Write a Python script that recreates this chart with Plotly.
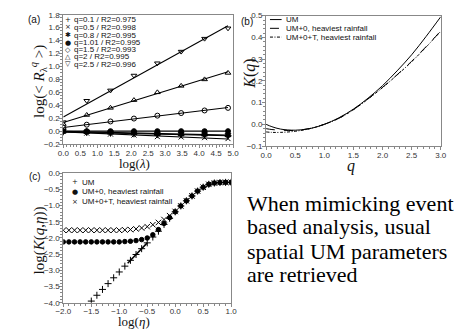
import numpy as np
import plotly.graph_objects as go

W, H = 471, 333

# ---------------- Panel (a) data ----------------
log_lambda = [0.0, 0.69, 1.39, 2.08, 2.77, 3.47, 4.16, 4.85]
a_labels = ["q=0.1 / R2=0.975", "q=0.5 / R2=0.998", "q=0.8 / R2=0.995",
            "q=1.01 / R2=0.995", "q=1.5 / R2=0.993", "q=2 / R2=0.995",
            "q=2.5 / R2=0.996"]
a_q01 = [-0.01, -0.02, -0.03, -0.04, -0.05, -0.055, -0.06, -0.07]
a_q05 = [0.0, -0.03, -0.045, -0.06, -0.085, -0.09, -0.10, -0.115]
a_q08 = [0.0, -0.01, -0.02, -0.03, -0.04, -0.045, -0.05, -0.06]
a_q101 = [0.0, 0.0, 0.0, 0.0, 0.0, 0.0, 0.0, 0.0]
a_q15 = [0.05, 0.10, 0.15, 0.195, 0.24, 0.28, 0.32, 0.36]
a_q2 = [0.11, 0.25, 0.36, 0.48, 0.60, 0.70, 0.80, 0.90]
a_q25 = [0.14, 0.47, 0.63, 0.86, 1.05, 1.23, 1.43, 1.59]

# ---------------- Panel (b) data ----------------
b_q = [0.0, 0.1, 0.25, 0.5, 0.75, 1.0, 1.25, 1.5, 1.75, 2.0, 2.25, 2.5, 2.75, 3.0]
b_um = [0.0, -0.011, -0.022, -0.027, -0.020, 0.0, 0.030, 0.070, 0.120, 0.178, 0.246, 0.320, 0.405, 0.495]
b_um0 = [-0.020, -0.024, -0.027, -0.028, -0.019, 0.0, 0.028, 0.068, 0.117, 0.170, 0.228, 0.290, 0.358, 0.430]
b_um0t = [-0.035, -0.037, -0.037, -0.032, -0.020, 0.0, 0.027, 0.067, 0.116, 0.169, 0.227, 0.288, 0.356, 0.428]
b_labels = ["UM", "UM+0, heaviest rainfall", "UM+0+T, heaviest rainfall"]

# ---------------- Panel (c) data ----------------
c_eta = [-2.0, -1.9, -1.8, -1.7, -1.6, -1.5, -1.4, -1.3, -1.2, -1.1, -1.0,
         -0.9, -0.8, -0.7, -0.6, -0.5, -0.4, -0.3, -0.2, -0.1, 0.0,
         0.1, 0.2, 0.3, 0.4, 0.5, 0.6, 0.7, 0.8, 0.9, 1.0]
c_um = [None, None, None, None, None, -3.95, -3.77, -3.59, -3.41, -3.23, -3.05,
        -2.87, -2.69, -2.51, -2.33, -2.15, -1.97, -1.79, -1.58, -1.39, -1.19,
        -1.01, -0.85, -0.70, -0.55, -0.43, -0.34, -0.30, -0.285, -0.28, -0.28]
c_um0 = [-2.12, -2.12, -2.12, -2.12, -2.12, -2.12, -2.12, -2.12, -2.12, -2.12, -2.12,
         -2.11, -2.10, -2.08, -2.05, -2.00, -1.90, -1.74, -1.55, -1.37, -1.19,
         -1.01, -0.85, -0.70, -0.55, -0.43, -0.34, -0.30, -0.285, -0.28, -0.28]
c_um0t = [-1.76, -1.76, -1.76, -1.76, -1.76, -1.76, -1.76, -1.76, -1.76, -1.76, -1.76,
          -1.75, -1.74, -1.72, -1.69, -1.65, -1.59, -1.52, -1.43, -1.31, -1.18,
          -1.01, -0.85, -0.70, -0.55, -0.43, -0.34, -0.30, -0.285, -0.28, -0.28]
c_fit_x = [-0.85, -0.5]
c_fit_y = [-2.78, -2.15]
c_labels = ["UM", "UM+0, heaviest rainfall", "UM+0+T, heaviest rainfall"]

side_text = ["When mimicking event", "based analysis, usual",
             "spatial UM parameters", "are retrieved"]


def px(x):
    return x / W


def py(y):
    return 1 - y / H


fig = go.Figure()

# Panel (a)
a_series = [a_q01, a_q05, a_q08, a_q101, a_q15, a_q2, a_q25]
a_symbols = ["cross-thin-open", "x-thin-open", "hexagram", "circle",
             "circle-open", "triangle-up-open", "triangle-down-open"]
xl = np.array(log_lambda)
for vals, sym in zip(a_series, a_symbols):
    slope, icpt = np.polyfit(xl, np.array(vals), 1)
    fig.add_trace(go.Scatter(x=[0.0, xl[-1]], y=[icpt, icpt + slope * xl[-1]],
                             mode="lines", line=dict(color="black", width=1.1),
                             xaxis="x", yaxis="y", showlegend=False, hoverinfo="skip"))
    fig.add_trace(go.Scatter(x=log_lambda, y=vals, mode="markers",
                             marker=dict(symbol=sym, size=5, color="black",
                                         line=dict(color="black", width=1)),
                             xaxis="x", yaxis="y", showlegend=False))

# Panel (b)
for vals, dash in zip([b_um, b_um0, b_um0t], ["solid", "dash", "3px,1.5px,1px,1.5px"]):
    fig.add_trace(go.Scatter(x=b_q, y=vals, mode="lines", line_shape="spline",
                             line=dict(color="black", width=1, dash=dash),
                             xaxis="x2", yaxis="y2", showlegend=False))

# Panel (c)
fig.add_trace(go.Scatter(x=c_fit_x, y=c_fit_y, mode="lines",
                         line=dict(color="black", width=1.5),
                         xaxis="x3", yaxis="y3", showlegend=False))
for vals, sym, sz in zip([c_um0, c_um0t, c_um],
                         ["circle", "x-thin-open", "cross-thin-open"], [4.5, 5.5, 5]):
    fig.add_trace(go.Scatter(x=c_eta, y=vals, mode="markers",
                             marker=dict(symbol=sym, size=sz, color="black",
                                         line=dict(color="black", width=1)),
                             xaxis="x3", yaxis="y3", showlegend=False))

tickfont = dict(family="Liberation Sans", size=8, color="#333")
frame = dict(showline=True, linecolor="#888", linewidth=1, mirror=True,
             ticks="outside", ticklen=3, tickcolor="#888", showgrid=False,
             zeroline=False, tickfont=tickfont, ticklabelstandoff=-2,
             minor=dict(ticks="outside", ticklen=2, tickcolor="#888"))

fig.update_layout(
    width=W, height=H, margin=dict(l=0, r=0, t=0, b=0),
    paper_bgcolor="white", plot_bgcolor="white",
    xaxis=dict(domain=[px(57), px(232)], range=[0, 5], dtick=0.5, tickformat=".1f",
               anchor="y", **frame),
    yaxis=dict(domain=[py(144), py(11)], range=[-0.2, 1.8], dtick=0.2, tickformat=".1f",
               anchor="x", **frame),
    xaxis2=dict(domain=[px(266), px(446)], range=[0, 3], dtick=0.5, tickformat=".1f",
                anchor="y2", **frame),
    yaxis2=dict(domain=[py(146), py(12)], range=[-0.1, 0.5], dtick=0.1, tickformat=".1f",
                anchor="x2", **frame),
    xaxis3=dict(domain=[px(57), px(230)], range=[-2, 1], dtick=0.5, tickformat=".1f",
                anchor="y3", **frame),
    yaxis3=dict(domain=[py(307), py(174)], range=[-4, 0], dtick=0.5, tickformat=".1f",
                anchor="x3", **frame),
)

ann = []


def text(x, y, s, size=8, family="Liberation Sans", xanchor="left", angle=0, color="#111"):
    ann.append(dict(x=px(x), y=py(y), xref="paper", yref="paper", text=s,
                    showarrow=False, xanchor=xanchor, yanchor="middle", textangle=angle,
                    font=dict(family=family, size=size, color=color)))


# panel labels
text(27, 16, "(a)", size=10, xanchor="center")
text(246, 18, "(b)", size=10, xanchor="center")
text(28, 177, "(c)", size=10, xanchor="center")

# axis titles
text(31, 80, "log(&lt; <i>R</i><sub>λ</sub><sup><i>q</i></sup> &gt;)", size=15,
     family="Liberation Serif", xanchor="center", angle=-90)
text(130, 164, "log(<i>λ</i>)", size=13, family="Liberation Serif", xanchor="center")
text(249, 72, "<i>K</i>(<i>q</i>)", size=16, family="Liberation Serif", xanchor="center", angle=-90)
text(354, 166, "<i>q</i>", size=16, family="Liberation Serif", xanchor="center")
text(32, 243, "log(<i>K</i>(<i>q</i>,<i>η</i>))", size=15, family="Liberation Serif",
     xanchor="center", angle=-90)
text(130, 326, "log(<i>η</i>)", size=13, family="Liberation Serif", xanchor="center")

# legend (a)
a_leg_sym = ["+", "×", "✱", "●", "◇", "△", "▽"]
a_leg_y = [16, 24, 32, 40, 47, 54, 62]
for s, lab, yy in zip(a_leg_sym, a_labels, a_leg_y):
    text(62, yy, s, size=7, family="DejaVu Sans", xanchor="center")
    text(66, yy, lab, size=8)

# legend (b)
shapes = []
for lab, yy, dash in zip(b_labels, [16, 25, 34], ["solid", "dash", "3px,1.5px,1px,1.5px"]):
    shapes.append(dict(type="line", xref="paper", yref="paper", x0=px(270), x1=px(282),
                       y0=py(yy), y1=py(yy), line=dict(color="black", width=1, dash=dash)))
    text(284, yy, lab, size=8)

# legend (c)
for s, lab, yy in zip(["+", "●", "×"], c_labels, [183, 193, 203]):
    text(69, yy, s, size=7, family="DejaVu Sans", xanchor="center")
    text(74, yy, lab, size=8)

# side text
for s, yy in zip(side_text, [205, 229, 254, 278]):
    text(244, yy, s, size=22, family="Liberation Serif", color="black")

fig.update_layout(annotations=ann, shapes=shapes)
fig.write_html("out.html", config={"displayModeBar": False},
               post_script="document.body.style.margin='0';document.body.style.overflow='hidden';")
